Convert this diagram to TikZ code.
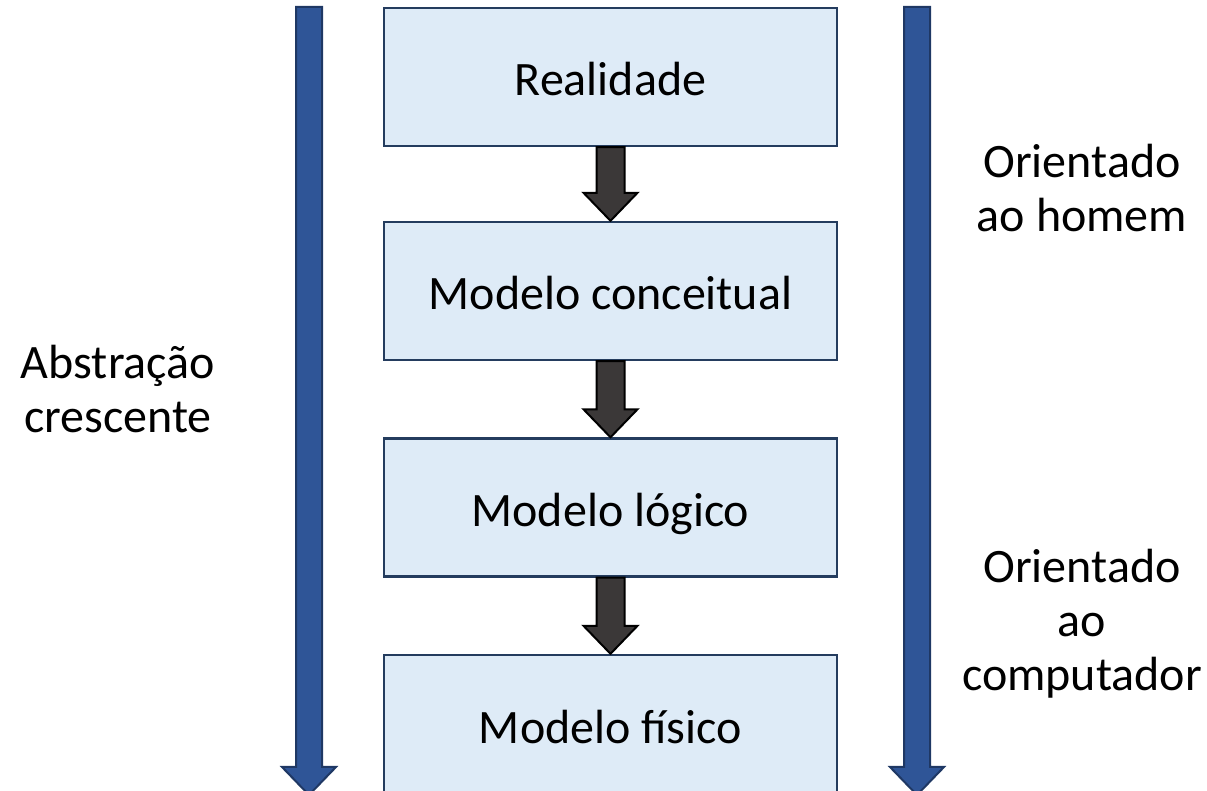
\documentclass[tikz,border=0pt]{standalone}
\usepackage{fontspec}
\setmainfont{Carlito}
\usetikzlibrary{calc}
\definecolor{boxfill}{HTML}{DEEBF7}
\definecolor{boxline}{HTML}{243C5E}
\definecolor{bluefill}{HTML}{2F5597}
\definecolor{blueline}{HTML}{1F3864}
\definecolor{darkfill}{HTML}{3B3838}
\tikzset{
  stagebox/.style={draw=boxline, fill=boxfill, line width=1.2pt, minimum width=226.5pt, minimum height=69pt, inner sep=0pt, text height=24pt, text depth=5pt, font=\fontsize{24}{27}\selectfont},
  sidetext/.style={align=center, inner sep=0pt, font=\fontsize{24}{27}\selectfont},
  bluearrow/.style={draw=blueline, fill=bluefill, line width=1pt, line join=miter},
  darkarrow/.style={draw=black, fill=darkfill, line width=1pt, line join=miter}
}
\begin{document}
\begin{tikzpicture}[x=0.5pt,y=-0.5pt]
\useasboundingbox (0,0) rectangle (1207,791);
\clip (0,0) rectangle (1207,791);
% blue arrows
\draw[bluearrow] (296,7) -- (322,7) -- (322,767) -- (336,767) -- (309,795) -- (282,767) -- (296,767) -- cycle;
\draw[bluearrow] (904,7) -- (930,7) -- (930,767) -- (944,767) -- (917,795) -- (890,767) -- (904,767) -- cycle;
% boxes
\node[stagebox] (r) at (610.5,77) {Realidade};
\node[stagebox] (c) at (610.5,291) {Modelo conceitual};
\node[stagebox] (l) at (610.5,507.5) {Modelo lógico};
\node[stagebox] (f) at (610.5,724) {Modelo físico};
% dark arrows
\foreach \a/\b in {r/c, c/l, l/f}{
  \draw[darkarrow] ($(\a.south)+(-14,0)$) -- ($(\a.south)+(14,0)$) -- ($(\b.north)+(14,-28)$) -- ($(\b.north)+(27,-28)$) -- (\b.north) -- ($(\b.north)+(-27,-28)$) -- ($(\b.north)+(-14,-28)$) -- cycle;
}
% side texts
\node[sidetext] (abs) at (118,389) {Abstração\\crescente};
\node[sidetext] (oh) at (1082,188) {Orientado\\ao homem};
\node[sidetext] (oc) at (1082,624) {Orientado\\ao\\computador};
\end{tikzpicture}
\end{document}
